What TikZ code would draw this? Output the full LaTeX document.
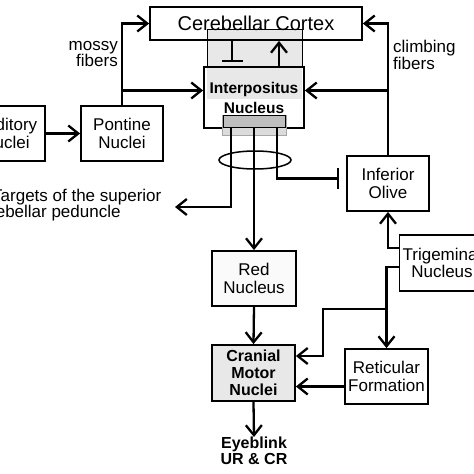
\documentclass[tikz,border=0pt]{standalone}
\usepackage{fontspec}
\setmainfont{Liberation Sans}
\usetikzlibrary{arrows.meta,shapes.geometric}

\tikzset{
  area/.style={draw, line width=1.8pt, align=center, minimum width=82pt, minimum height=55pt, inner sep=1pt, font=\fontsize{17}{17.5}\selectfont},
  arr/.style={line width=2.3pt, -{Straight Barb[length=10pt,width=16pt]}},
  inh/.style={line width=2.3pt, -{Bar[width=21pt]}},
  lbl/.style={inner sep=0pt, font=\fontsize{17}{16.5}\selectfont},
}

\begin{document}
\begin{tikzpicture}[x=1pt,y=-1pt]
\useasboundingbox (0,0) rectangle (474,474);
% grey field behind the nucleus
\fill[gray!18] (207,29) rectangle (302,99);
\draw[line width=.7pt] (207,67) |- (302,29) -- (302,67);
\node[area, minimum width=212pt, minimum height=33pt, font=\fontsize{20}{22}\selectfont] (cortex) at (256,23.5) {Cerebellar Cortex};
\node[area, minimum width=100pt, minimum height=61pt, font=\bfseries\fontsize{15.5}{20}\selectfont] (interp) at (254,97.5) {Interpositus\\Nucleus};
% output zone
\filldraw[fill=gray!28, draw=gray!70, line width=.7pt] (222,115) rectangle (286,135);
\node[draw, fill=gray!50, line width=.7pt, minimum width=62pt, minimum height=12pt, inner sep=0pt] (outbox) at (254,121) {};

\node[area, minimum width=78pt] (aud) at (6,133.5) {Auditory\\Nuclei};
\node[area] (pontine) at (122,133.5) {Pontine\\Nuclei};
\node[area] (olive) at (388,183.5) {Inferior\\Olive};
\node[area, minimum width=85pt, minimum height=56pt] (trigem) at (442,263) {Trigeminal\\Nucleus};
\node[area, minimum width=84pt, fill=gray!4] (red) at (254,278.5) {Red\\Nucleus};
\node[area, minimum width=83pt, minimum height=56pt, fill=gray!18, font=\bfseries\fontsize{16}{17}\selectfont] (cranial) at (253.5,373) {Cranial\\Motor\\Nuclei};
\node[area, minimum width=83pt] (retic) at (386.5,376.5) {Reticular\\Formation};
\node[lbl, anchor=north, align=center, font=\bfseries\fontsize{16}{15.5}\selectfont] (blink) at (254,437) {Eyeblink\\UR \& CR};

\node[lbl, anchor=east, align=right] (mossy) at (118,54) {mossy\\fibers};
\node[lbl, anchor=west, align=left] (climb) at (393,55) {climbing\\fibers};
\node[lbl, anchor=west] (scpa) at (-8,197) {Targets of the superior};
\node[lbl, anchor=west] (scpb) at (-28,213) {cerebellar peduncle};

% mossy and climbing fibers
\coordinate (ipin) at ([yshift=7pt]interp.west);
\coordinate (ipout) at ([yshift=7pt]interp.east);
\draw[arr] (pontine.north) |- (cortex.west);
\draw[arr] (pontine.north |- ipin) -- (ipin);
\draw[arr] (olive.north) |- (cortex.east);
\draw[arr] (olive.north |- ipout) -- (ipout);
\draw[arr] (aud) -- (pontine);

% cortex and nucleus
\draw[inh] ([xshift=-24pt]cortex.south) -- ++(0,21);
\draw[arr] ([xshift=25pt]interp.north) -- ([xshift=25pt]interp.north |- cortex.south);

% outputs of the nucleus
\coordinate (scptip) at (175,207);
\coordinate (olivebar) at ([xshift=-7pt,yshift=5pt]olive.west);
\draw[arr] ([xshift=-23pt]outbox.south) |- (scptip);
\draw[arr] (outbox.south) -- (red.north);
\draw[inh] ([xshift=23pt]outbox.south) |- (olivebar);
\node[draw, ellipse, line width=1.5pt, minimum width=72pt, minimum height=18pt, inner sep=0pt] (bundle) at (255,160) {};

% brainstem
\coordinate (rw) at ([yshift=-10pt]retic.west);
\draw[arr] (red.south) -- (cranial.north);
\draw[arr] (cranial.south) -- (blink.north);
\draw[arr] ([yshift=15pt]trigem.west) -| (olive.south);
\draw[arr] ([yshift=-4pt]trigem.west) -| (retic.north);
\draw[arr] (retic.north |- 0,309) -- (323,309) |- ([yshift=17pt]cranial.east);
\draw[arr] (rw) -- (cranial.east |- rw);
\end{tikzpicture}
\end{document}
